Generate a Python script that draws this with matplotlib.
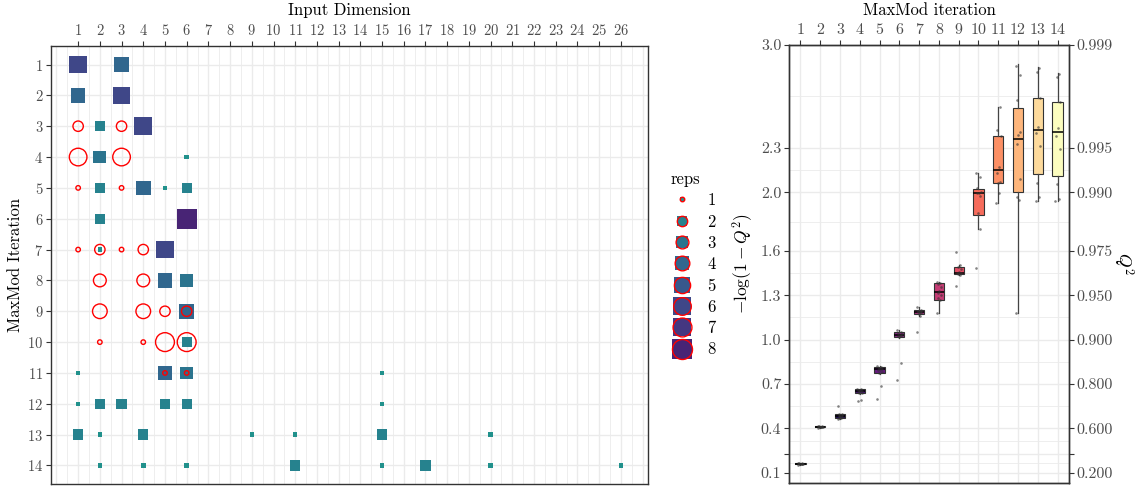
import numpy as np
import matplotlib
matplotlib.use("Agg")
import matplotlib.pyplot as plt
from matplotlib.lines import Line2D
from matplotlib.legend_handler import HandlerTuple

plt.rcParams['font.family'] = ['cmr10', 'DejaVu Serif']
plt.rcParams['mathtext.fontset'] = 'cm'
plt.rcParams['axes.unicode_minus'] = False
plt.rcParams['axes.formatter.use_mathtext'] = True

# ---------------- left panel data ----------------
# squares: new input dimension activated (iteration, dimension, reps)
sq_iter = [1, 1, 2, 2, 3, 3, 4, 4, 5, 5, 5, 5, 6, 6, 7, 7, 8, 8, 9, 10,
           11, 11, 11, 11, 12, 12, 12, 12, 12, 12,
           13, 13, 13, 13, 13, 13, 13, 14, 14, 14, 14, 14, 14, 14, 14]
sq_dim = [1, 3, 1, 3, 2, 4, 2, 6, 2, 4, 5, 6, 2, 6, 2, 5, 5, 6, 6, 6,
          1, 5, 6, 15, 1, 2, 3, 5, 6, 15,
          1, 2, 4, 9, 11, 15, 20, 2, 4, 6, 11, 15, 17, 20, 26]
sq_reps = [6, 4, 4, 6, 2, 6, 3, 1, 2, 4, 1, 2, 2, 8, 1, 6, 4, 3, 4, 2,
           1, 4, 3, 1, 1, 2, 2, 2, 2, 1,
           2, 1, 2, 1, 1, 2, 1, 1, 1, 1, 2, 1, 2, 1, 1]
# circles: refinement of already active dimensions
ci_iter = [3, 3, 4, 4, 5, 5, 7, 7, 7, 7, 8, 8, 9, 9, 9, 9, 10, 10, 10, 10, 11, 11]
ci_dim = [1, 3, 1, 3, 1, 3, 1, 2, 3, 4, 2, 4, 2, 4, 5, 6, 2, 4, 5, 6, 5, 6]
ci_reps = [2, 2, 6, 6, 1, 1, 1, 2, 1, 2, 3, 3, 4, 4, 2, 2, 1, 1, 7, 7, 1, 1]

dim_ticks = list(range(1, 27))
iter_ticks = list(range(1, 15))
legend_reps = [1, 2, 3, 4, 5, 6, 7, 8]

# ---------------- right panel data ----------------
iterations = list(range(1, 15))
box_q1 = [0.155, 0.407, 0.470, 0.636, 0.775, 1.016, 1.174, 1.269, 1.446, 1.844, 2.061, 2.002, 2.124, 2.111]
box_med = [0.158, 0.409, 0.483, 0.649, 0.798, 1.031, 1.187, 1.325, 1.455, 1.993, 2.151, 2.360, 2.423, 2.409]
box_q3 = [0.160, 0.411, 0.495, 0.663, 0.816, 1.052, 1.201, 1.382, 1.495, 2.025, 2.382, 2.570, 2.640, 2.613]
box_wlo = [0.152, 0.402, 0.459, 0.633, 0.770, 1.012, 1.162, 1.178, 1.437, 1.753, 1.930, 1.178, 1.939, 1.939]
box_whi = [0.162, 0.414, 0.496, 0.666, 0.820, 1.065, 1.223, 1.393, 1.507, 2.133, 2.581, 2.869, 2.853, 2.812]
rep_scores = [
    [0.152, 0.155, 0.156, 0.157, 0.158, 0.158, 0.159, 0.160, 0.161, 0.162],
    [0.402, 0.405, 0.407, 0.408, 0.409, 0.409, 0.410, 0.411, 0.412, 0.414],
    [0.459, 0.466, 0.470, 0.476, 0.481, 0.485, 0.490, 0.495, 0.496, 0.549],
    [0.583, 0.590, 0.636, 0.641, 0.646, 0.650, 0.654, 0.660, 0.663, 0.666],
    [0.595, 0.687, 0.775, 0.782, 0.792, 0.797, 0.802, 0.810, 0.816, 0.820],
    [0.726, 0.839, 1.016, 1.022, 1.028, 1.031, 1.036, 1.044, 1.052, 1.065],
    [1.054, 1.162, 1.174, 1.180, 1.185, 1.188, 1.192, 1.197, 1.201, 1.223],
    [1.178, 1.269, 1.280, 1.300, 1.320, 1.330, 1.360, 1.375, 1.382, 1.393],
    [1.364, 1.437, 1.446, 1.450, 1.455, 1.460, 1.477, 1.490, 1.507, 1.597],
    [1.484, 1.753, 1.862, 1.975, 1.993, 1.998, 2.005, 2.032, 2.106, 2.133],
    [1.930, 1.993, 2.066, 2.072, 2.129, 2.174, 2.382, 2.423, 2.581],
    [1.178, 1.948, 1.966, 2.090, 2.326, 2.389, 2.412, 2.627, 2.794, 2.860],
    [1.939, 1.970, 2.061, 2.314, 2.400, 2.446, 2.638, 2.814, 2.846],
    [1.939, 1.952, 2.054, 2.292, 2.382, 2.439, 2.611, 2.785, 2.803],
]
q2_ticks = [0.2, 0.4, 0.6, 0.8, 0.9, 0.95, 0.975, 0.99, 0.995, 0.999]
q2_labels = ['0.200', '', '0.600', '0.800', '0.900', '0.950', '0.975', '0.990', '0.995', '0.999']
lq_labels = ['0.1', '', '0.4', '0.7', '1.0', '1.3', '1.6', '2.0', '2.3', '3.0']

# ---------------- helpers ----------------
DPI = 100
PT = 72.0 / DPI
def side_pt(v):
    return (4.5 + 15.5 * np.sqrt((np.asarray(v, float) - 1) / 7.0)) * PT

def rep_color(v):
    return plt.cm.viridis(0.5 - 0.4 * (np.asarray(v, float) - 1) / 7.0)

TICK_COL = '#4D4D4D'
GRID_COL = '#EBEBEB'
SPINE_COL = '#333333'

fig = plt.figure(figsize=(1141 / DPI, 488 / DPI), dpi=DPI)

# ================= left panel =================
ax = fig.add_axes([51 / 1141, 1 - 484 / 488, (648 - 51) / 1141, (484 - 46) / 488])
ax.set_xlim(-0.25, 27.25)
ax.set_ylim(14.6, 0.4)
for gx in np.arange(0, 27.01, 0.5):
    ax.axvline(gx, color=GRID_COL, lw=1.0 if gx % 1 == 0 else 0.6, zorder=0)
for gy in iter_ticks:
    ax.axhline(gy, color=GRID_COL, lw=1.0, zorder=0)

ax.scatter(sq_dim, sq_iter, s=side_pt(sq_reps) ** 2, marker='s',
           c=rep_color(sq_reps), linewidths=0, zorder=3)
ax.scatter(ci_dim, ci_iter, s=side_pt(ci_reps) ** 2, marker='o',
           facecolors='none', edgecolors='#FF0000', linewidths=1.0, zorder=4)

ax.xaxis.tick_top()
ax.xaxis.set_label_position('top')
ax.set_xticks(dim_ticks)
ax.set_yticks(iter_ticks)
ax.tick_params(axis='both', labelsize=10.5, colors=SPINE_COL, labelcolor=TICK_COL,
               length=3.5, width=0.8, pad=2)
ax.set_xlabel('Input Dimension', fontsize=12, labelpad=6)
ax.set_ylabel('MaxMod Iteration', fontsize=12, labelpad=3)
for sp in ax.spines.values():
    sp.set_color(SPINE_COL)
    sp.set_linewidth(1.0)

# legend
handles = []
for v in legend_reps:
    sq = Line2D([], [], marker='s', ls='', ms=side_pt(v), mfc=rep_color(v), mew=0)
    ci = Line2D([], [], marker='o', ls='', ms=side_pt(v), mfc='none', mec='#FF0000', mew=1.0)
    handles.append((sq, ci))
leg = fig.legend(handles, [str(v) for v in legend_reps],
                 handler_map={tuple: HandlerTuple(ndivide=1)},
                 loc='upper left', bbox_to_anchor=(664 / 1141, 1 - 165 / 488),
                 frameon=False, fontsize=12, title='reps', title_fontsize=12,
                 alignment='left', labelspacing=0.36, handlelength=1.4,
                 handletextpad=0.8, borderaxespad=0)

# ================= right panel =================
L = lambda q: -np.log10(1 - np.asarray(q, float))
bx = fig.add_axes([789 / 1141, 1 - 483 / 488, (1069 - 789) / 1141, (483 - 45) / 488])
bx.set_xlim(0.42, 14.58)
bx.set_ylim(0.027, 3.0)
ytk = L(q2_ticks)
for gy in ytk:
    bx.axhline(gy, color=GRID_COL, lw=1.0, zorder=0)
for a, b in zip(ytk[:-1], ytk[1:]):
    bx.axhline((a + b) / 2, color=GRID_COL, lw=0.6, zorder=0)
for gx in iterations:
    bx.axvline(gx, color=GRID_COL, lw=1.0, zorder=0)

stats = [dict(q1=a, med=m, q3=b, whislo=lo, whishi=hi, fliers=[])
         for a, m, b, lo, hi in zip(box_q1, box_med, box_q3, box_wlo, box_whi)]
cols = plt.cm.magma(np.linspace(0, 1, len(iterations)))
bp = bx.bxp(stats, positions=iterations, widths=0.52, patch_artist=True,
            showfliers=False, showcaps=False,
            boxprops=dict(edgecolor=SPINE_COL, linewidth=0.8),
            whiskerprops=dict(color='#444444', linewidth=0.9),
            medianprops=dict(color='black', linewidth=1.1), zorder=2)
for patch, c in zip(bp['boxes'], cols):
    patch.set_facecolor(c)

jit = [-0.11, 0.06, -0.03, 0.10, -0.07, 0.02, 0.12, -0.05, 0.08, -0.12]
for it, vals in zip(iterations, rep_scores):
    xs = [it + jit[k % len(jit)] for k in range(len(vals))]
    bx.scatter(xs, vals, s=3.5, color='#333333', alpha=0.6, linewidths=0, zorder=5)

bx.xaxis.tick_top()
bx.xaxis.set_label_position('top')
bx.set_xticks(iterations)
bx.set_yticks(ytk)
bx.set_yticklabels(lq_labels)
bx.tick_params(axis='both', labelsize=11.5, colors=SPINE_COL, labelcolor=TICK_COL,
               length=3.5, width=0.8, pad=2)
bx.set_xlabel('MaxMod iteration', fontsize=12, labelpad=6)
bx.set_ylabel(r'$-\log(1-Q^2)$', fontsize=12.5, labelpad=4)
for sp in bx.spines.values():
    sp.set_color(SPINE_COL)
    sp.set_linewidth(1.0)

rx = bx.twinx()
rx.set_ylim(bx.get_ylim())
rx.set_yticks(ytk)
rx.set_yticklabels(q2_labels)
rx.tick_params(axis='y', labelsize=11.5, colors=SPINE_COL, labelcolor=TICK_COL,
               length=3.5, width=0.8, pad=2)
rx.set_ylabel(r'$Q^2$', fontsize=12.5, rotation=270, labelpad=16)
for sp in rx.spines.values():
    sp.set_color(SPINE_COL)
    sp.set_linewidth(1.0)

fig.savefig('out.png', dpi=DPI)
